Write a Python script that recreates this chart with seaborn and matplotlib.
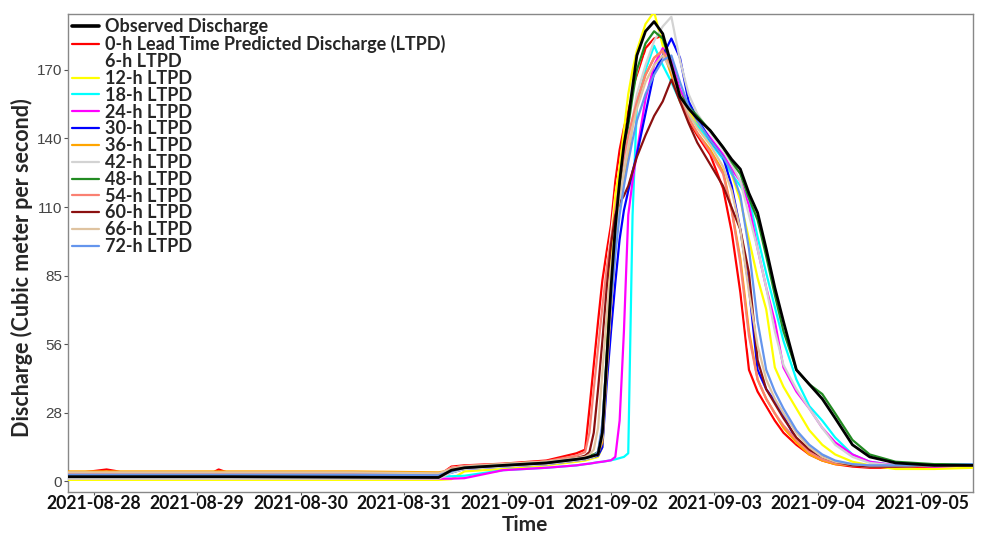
import matplotlib
matplotlib.use("Agg")
import matplotlib.pyplot as plt
import matplotlib.dates as mdates
import numpy as np
import pandas as pd
import seaborn as sns

# Time axis: hours after 2021-08-28 00:00
hours = [-6, 3, 5, 8, 27, 29, 32, 60, 80, 83, 86, 95, 105, 112, 114, 115, 116, 117,
         118, 119, 120, 121, 122, 123, 124, 125, 126, 128, 130, 132, 134, 136, 138,
         140, 143, 146, 148, 150, 152, 154, 156, 158, 160, 163, 166, 169, 172, 176,
         180, 186, 195, 204]

observed = [1.8, 1.8, 1.8, 1.8, 1.8, 1.8, 1.8, 1.6, 1.5, 4.5, 5.5, 6.5, 7.5, 9, 9.5, 10,
            10.5, 11, 20, 50, 80, 105, 124, 139, 150, 163, 176, 186, 190, 185, 172, 159,
            154, 150, 145, 138, 133, 129, 119, 111, 96, 80, 66, 46, 40, 34, 26, 15, 10,
            7.5, 6.5, 6.5]
ltpd_0h = [2.8, 4.8, 4.2, 2.9, 2.9, 4.8, 2.9, 2.6, 2.2, 6, 6.5, 7.2, 8.5, 11.5, 13, 30,
           48, 66, 83, 95, 106, 124, 137, 146, 153, 160, 166, 179, 183, 184, 172, 160,
           149, 143, 135, 121, 103, 78, 46, 37, 31, 25, 20, 15, 11, 8.5, 7, 6, 5.5, 5.5,
           6, 6.5]
ltpd_6h = [2.5, 2.5, 2.5, 2.5, 2.5, 2.5, 2.5, 2.5, 2.2, 5.5, 6.2, 7, 8, 10, 11, 18, 36,
           55, 72, 88, 102, 118, 130, 140, 150, 158, 165, 176, 182, 183, 172, 160, 151,
           145, 137, 127, 112, 88, 55, 40, 33, 27, 22, 16, 12, 9, 7.5, 6.5, 6, 6, 6.5,
           6.5]
ltpd_12h = [0.5, 0.5, 0.5, 0.5, 0.5, 0.5, 0.5, 0.5, 0.5, 0.8, 4, 5, 6.5, 8, 8.5, 9, 9.5,
            10, 14, 50, 95, 118, 130, 145, 160, 170, 178, 189, 194, 180, 168, 160, 153,
            148, 141, 134, 127, 116, 100, 84, 71, 47, 39, 30, 21, 15, 11, 8, 6.5, 5, 5,
            5.5]
ltpd_18h = [2.2, 2.2, 2.2, 2.2, 2.2, 2.2, 2.2, 2.2, 2.0, 2.0, 2.2, 4.5, 5.5, 6.5, 7, 7.2,
            7.5, 7.8, 8, 8.3, 8.6, 9, 9.5, 10, 11.5, 110, 155, 170, 180, 172, 165, 157,
            151, 147, 140, 133, 127, 122, 117, 101, 86, 72, 58, 42, 31, 25, 18, 11, 8,
            6.5, 6.5, 6.5]
ltpd_24h = [1.2, 1.2, 1.2, 1.2, 1.2, 1.2, 1.2, 1.2, 1.0, 1.0, 1.2, 4.5, 5.5, 6.5, 7, 7.2,
            7.5, 7.8, 8, 8.3, 8.6, 10, 25, 62, 110, 124, 136, 158, 172, 179, 174, 162,
            155, 149, 142, 135, 129, 124, 114, 96, 80, 66, 47, 37, 30, 22, 16, 11, 8,
            6.5, 6, 6.5]
ltpd_30h = [2.3, 2.3, 2.3, 2.3, 2.3, 2.3, 2.3, 2.3, 2.0, 3.5, 5.0, 6, 7, 8.5, 9, 9.5, 10,
            10.5, 14, 40, 62, 82, 100, 112, 120, 128, 135, 152, 169, 176, 183, 175, 157,
            150, 141, 134, 122, 104, 80, 46, 38, 33, 27, 17, 13, 10, 7.5, 6.5, 6, 6,
            6.5, 7]
ltpd_36h = [4.0, 4.0, 4.0, 4.0, 4.0, 4.0, 4.0, 4.0, 3.6, 4.5, 6.0, 7, 8, 9.5, 10, 10.5,
            11, 11.5, 16, 45, 72, 95, 115, 124, 134, 148, 157, 168, 175, 178, 168, 157,
            150, 144, 137, 128, 112, 92, 62, 42, 34, 28, 22, 16, 11, 8.5, 7, 6.5, 6, 6,
            6.5, 6.5]
ltpd_42h = [1.0, 1.0, 1.0, 1.0, 1.0, 1.0, 1.0, 1.0, 1.0, 3.5, 5, 6, 7, 8.5, 9, 9.5, 10,
            11, 18, 48, 75, 98, 115, 128, 140, 150, 160, 172, 182, 188, 192, 174, 160,
            152, 144, 137, 131, 124, 110, 96, 80, 62, 48, 38, 30, 22, 15, 10, 7.5, 6.5,
            6.5, 6.5]
ltpd_48h = [2.0, 2.0, 2.0, 2.0, 2.0, 2.0, 2.0, 2.0, 2.0, 5.0, 6.0, 7, 8, 9.5, 10, 10.5,
            11, 12, 22, 52, 82, 106, 122, 136, 147, 159, 170, 181, 186, 183, 172, 160,
            155, 151, 145, 138, 132, 127, 117, 108, 93, 77, 62, 46, 40, 36, 28, 17, 11,
            8, 7, 7]
ltpd_54h = [3.2, 3.2, 3.2, 3.2, 3.2, 3.2, 3.2, 3.2, 2.8, 5.5, 6.2, 7, 8.2, 10.5, 12, 20,
            38, 55, 72, 88, 100, 112, 124, 134, 143, 150, 157, 168, 175, 178, 170, 158,
            150, 144, 136, 127, 112, 90, 60, 42, 34, 28, 23, 17, 12, 9, 7.5, 6.5, 6, 6,
            6.5, 6.5]
ltpd_60h = [1.8, 1.8, 1.8, 1.8, 1.8, 1.8, 1.8, 1.8, 1.6, 4.5, 5.5, 6.5, 7.5, 9.5, 10.5,
            12, 20, 38, 58, 80, 98, 110, 115, 118, 122, 128, 134, 143, 151, 157, 166,
            157, 148, 140, 131, 122, 113, 104, 86, 50, 38, 32, 26, 18, 13, 10, 8, 6.5, 6,
            6, 6.5, 6.5]
ltpd_66h = [3.6, 3.6, 3.6, 3.6, 3.6, 3.6, 3.6, 3.6, 3.2, 5, 6, 7, 8, 9.5, 10, 11, 13, 22,
            45, 68, 88, 104, 118, 128, 137, 146, 154, 165, 172, 176, 170, 160, 152, 146,
            139, 130, 120, 104, 78, 56, 42, 34, 28, 20, 14, 10, 8, 7, 6.5, 6.5, 6.5, 6.5]
ltpd_72h = [2.6, 2.6, 2.6, 2.6, 2.6, 2.6, 2.6, 2.6, 2.4, 4, 5.5, 6.5, 7.5, 9, 9.5, 10,
            10.5, 12, 24, 50, 74, 94, 110, 122, 132, 141, 149, 160, 168, 174, 176, 165,
            155, 149, 141, 134, 128, 118, 96, 66, 46, 37, 30, 21, 15, 11, 8.5, 7, 6.5,
            6.5, 6.5, 7]

series_names = ["Observed Discharge", "0-h Lead Time Predicted Discharge (LTPD)",
                "6-h LTPD", "12-h LTPD", "18-h LTPD", "24-h LTPD", "30-h LTPD",
                "36-h LTPD", "42-h LTPD", "48-h LTPD", "54-h LTPD", "60-h LTPD",
                "66-h LTPD", "72-h LTPD"]
series_values = [observed, ltpd_0h, ltpd_6h, ltpd_12h, ltpd_18h, ltpd_24h, ltpd_30h,
                 ltpd_36h, ltpd_42h, ltpd_48h, ltpd_54h, ltpd_60h, ltpd_66h, ltpd_72h]
series_colors = ["#000000", "#ff0000", "#ffffff", "#ffff00", "#00ffff", "#ff00ff",
                 "#0000ff", "#ffa500", "#d3d3d3", "#228b22", "#fa8072", "#8b1010",
                 "#dfc3a0", "#6495ed"]

ytick_labels = ["0", "28", "56", "85", "110", "140", "170"]
date_ticks = pd.date_range("2021-08-28", "2021-09-05", freq="D")

start = pd.Timestamp("2021-08-28")
times = start + pd.to_timedelta(hours, unit="h")
frames = []
for name, vals in zip(series_names, series_values):
    frames.append(pd.DataFrame({"Time": times, "Discharge": vals, "Series": name}))
df = pd.concat(frames, ignore_index=True)

sns.set_style("ticks")
plt.rcParams["font.family"] = ["Lato", "DejaVu Sans"]

fig = plt.figure(figsize=(9.82, 5.33), dpi=100)
ax = fig.add_axes([0.069, 0.077, 0.922, 0.897])

palette = dict(zip(series_names, series_colors))
for name in series_names:
    sub = df[df["Series"] == name]
    is_obs = name == "Observed Discharge"
    sns.lineplot(data=sub, x="Time", y="Discharge", color=palette[name],
                 lw=2.0 if is_obs else 1.6, ax=ax, label=name,
                 zorder=5 if is_obs else 3)

ax.set_xlim(pd.Timestamp("2021-08-27 18:00"), pd.Timestamp("2021-09-05 12:00"))
ax.set_ylim(-4.5, 193.2)
ax.set_xticks(date_ticks)
ax.xaxis.set_major_formatter(mdates.DateFormatter("%Y-%m-%d"))
ax.set_yticks(np.linspace(0, 170, len(ytick_labels)))
ax.set_yticklabels(ytick_labels)

for lab in ax.get_xticklabels():
    lab.set_fontweight("bold")
    lab.set_fontsize(12.7)
    lab.set_color("#111111")
for lab in ax.get_yticklabels():
    lab.set_family(["Liberation Sans", "DejaVu Sans"])
    lab.set_fontsize(11)
    lab.set_color("#444444")

ax.tick_params(axis="x", direction="out", length=2.5, width=0.8, color="#555555", pad=0)
ax.tick_params(axis="y", direction="out", length=3, width=0.8, color="#555555", pad=1)
for sp in ax.spines.values():
    sp.set_color("#888888")
    sp.set_linewidth(1.0)

ax.set_xlabel("Time", fontsize=15, fontweight="bold")
ax.xaxis.set_label_coords(0.505, -0.048)
ax.set_ylabel("Discharge (Cubic meter per second)", fontsize=15.5, fontweight="bold")
ax.yaxis.set_label_coords(-0.051, 0.47)
ax.yaxis.label.set_va("center")

leg = ax.legend(loc="upper left", bbox_to_anchor=(0.0, 1.0), frameon=False,
                prop={"weight": "bold", "size": 13}, handlelength=1.5,
                handletextpad=0.3, labelspacing=-0.01, borderaxespad=0.1,
                borderpad=0.15)
for line in leg.get_lines():
    line.set_linewidth(1.6)
leg.get_lines()[0].set_linewidth(2.6)

fig.savefig("out.png", dpi=100)
